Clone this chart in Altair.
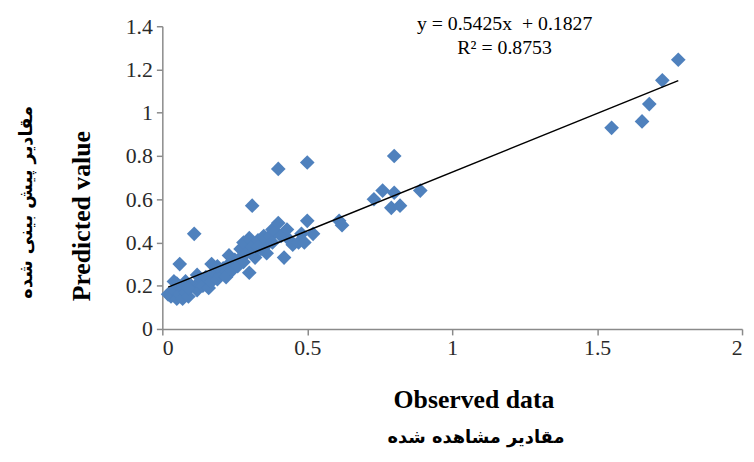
import altair as alt
import pandas as pd

# Observed (x) and predicted (y) values
observed = [0.02, 0.03, 0.04, 0.05, 0.05, 0.06, 0.06, 0.07, 0.07, 0.08, 0.08, 0.09,
            0.10, 0.11, 0.12, 0.13, 0.14, 0.15, 0.16, 0.17, 0.17, 0.18, 0.19, 0.20,
            0.21, 0.22, 0.23, 0.24, 0.25, 0.26, 0.27, 0.27, 0.28, 0.29, 0.30, 0.30,
            0.31, 0.31, 0.32, 0.33, 0.34, 0.35, 0.35, 0.36, 0.37, 0.38, 0.38, 0.39,
            0.40, 0.40, 0.41, 0.42, 0.43, 0.44, 0.45, 0.47, 0.48, 0.49, 0.50, 0.50,
            0.52, 0.61, 0.62, 0.73, 0.76, 0.79, 0.80, 0.80, 0.82, 0.89,
            1.55, 1.655, 1.68, 1.725, 1.78,
            0.04, 0.09, 0.12, 0.19, 0.23, 0.28, 0.33, 0.36]
predicted = [0.16, 0.15, 0.18, 0.14, 0.21, 0.16, 0.30, 0.19, 0.14, 0.22, 0.17, 0.15,
             0.20, 0.44, 0.18, 0.22, 0.20, 0.24, 0.19, 0.30, 0.22, 0.26, 0.23, 0.25,
             0.28, 0.24, 0.30, 0.27, 0.32, 0.29, 0.37, 0.33, 0.40, 0.35, 0.26, 0.42,
             0.57, 0.38, 0.33, 0.41, 0.37, 0.42, 0.43, 0.39, 0.43, 0.40, 0.46, 0.45,
             0.74, 0.49, 0.43, 0.33, 0.46, 0.41, 0.39, 0.40, 0.44, 0.40, 0.77, 0.50,
             0.44, 0.50, 0.48, 0.60, 0.64, 0.56, 0.63, 0.80, 0.57, 0.64,
             0.93, 0.96, 1.04, 1.15, 1.245,
             0.22, 0.19, 0.25, 0.29, 0.34, 0.31, 0.38, 0.35]

# Linear trend shown in the chart
slope = 0.5425
intercept = 0.1827
trend_x = [0.02, 1.78]

x_ticks = [0, 0.5, 1, 1.5, 2]
y_ticks = [0, 0.2, 0.4, 0.6, 0.8, 1.0, 1.2, 1.4]

equation_lines = ["y = 0.5425x \u00a0+ 0.1827", "R² = 0.8753"]
x_title = "Observed data"
x_title_fa = "مقادیر مشاهده شده"
y_title = "Predicted value"
y_title_fa = "مقادیر پیش بینی شده"

pts = pd.DataFrame({"obs": observed, "pred": predicted})
trend = pd.DataFrame({"obs": trend_x, "pred": [slope * v + intercept for v in trend_x]})

SERIF = "Liberation Serif"
AX = "#8a8a8a"

xs = alt.Scale(domain=[0, 2], nice=False)
ys = alt.Scale(domain=[0, 1.4], nice=False)

x_axis = alt.Axis(values=x_ticks, format="~g", grid=False, domainColor=AX, tickColor=AX,
                  domainWidth=1.5, tickWidth=1.5, tickSize=6, labelFont=SERIF,
                  labelFontSize=22, labelColor="#2a2a2a", labelPadding=3, title=None)
y_axis = alt.Axis(values=y_ticks, format="~g", grid=False, domainColor=AX, tickColor=AX,
                  domainWidth=1.5, tickWidth=1.5, tickSize=6, labelFont=SERIF,
                  labelFontSize=22, labelColor="#2a2a2a", labelPadding=4, title=None)

points = alt.Chart(pts).mark_point(shape="diamond", filled=True, size=220,
                                   color="#4F81BD", opacity=1).encode(
    x=alt.X("obs:Q", scale=xs, axis=x_axis),
    y=alt.Y("pred:Q", scale=ys, axis=y_axis),
)

line = alt.Chart(trend).mark_line(color="#000", strokeWidth=1.5).encode(
    x=alt.X("obs:Q", scale=xs),
    y=alt.Y("pred:Q", scale=ys),
)


def label(text, x, y, font=SERIF, size=20, weight="normal", angle=0):
    return alt.Chart(pd.DataFrame({"t": [text]})).mark_text(
        font=font, fontSize=size, fontWeight=weight, color="#000", angle=angle,
        align="center", baseline="middle"
    ).encode(text="t:N", x=alt.value(x), y=alt.value(y))


eq1 = label(equation_lines[0], 346, -2, size=20)
eq2 = label(equation_lines[1], 346, 22, size=20)
xtitle = label(x_title, 315, 378, size=26, weight="bold")
xtitle_fa = label(x_title_fa, 317, 416, font="DejaVu Sans", size=18, weight="bold")
ytitle = label(y_title, -81, 192, size=26, weight="bold", angle=270)
ytitle_fa = label(y_title_fa, -137, 178, font="DejaVu Sans", size=18, weight="bold", angle=270)

chart = alt.layer(points, line, eq1, eq2, xtitle, xtitle_fa, ytitle, ytitle_fa).properties(
    width=586, height=306,
    autosize=alt.AutoSizeParams(type="none"),
    padding={"left": 156, "top": 16, "right": 4, "bottom": 128},
).configure_view(stroke=None)

chart.save("out.html", embed_options={"renderer": "svg", "actions": False})
